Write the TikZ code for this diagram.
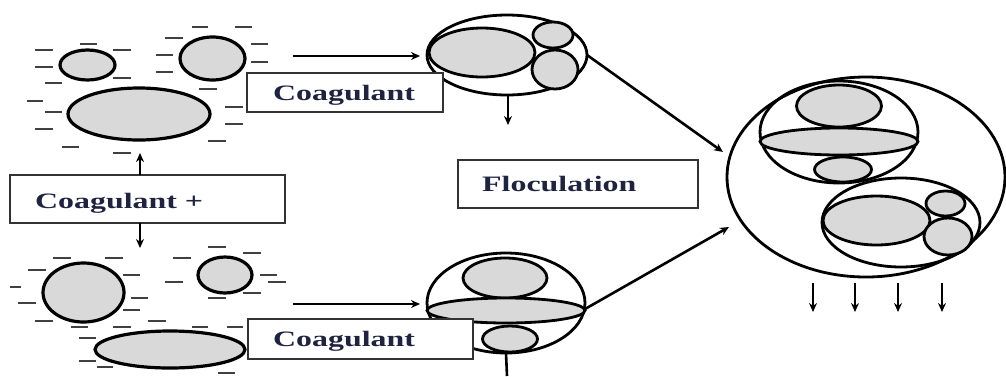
\documentclass[tikz,border=0pt]{standalone}
\usepackage{fontspec}
\setmainfont{Liberation Serif}
\usepackage{graphicx}
\usetikzlibrary{shapes.geometric,arrows.meta}
\definecolor{fillgray}{HTML}{D9D9D9}
\definecolor{txt}{HTML}{1E2340}
\definecolor{dashgray}{HTML}{404040}
\tikzset{
  blob/.style={ellipse, draw=black, line width=3.2pt, fill=fillgray, inner sep=0pt, outer sep=0pt},
  ring/.style={ellipse, draw=black, line width=2.8pt, inner sep=0pt, outer sep=0pt},
  labelbox/.style={rectangle, draw=black!80, line width=1.8pt, fill=white, inner sep=0pt, outer sep=0pt},
  labeltext/.style={inner sep=0pt, text=txt, font=\fontsize{22}{26}\selectfont\bfseries, anchor=base west},
  arr/.style={line width=2.6pt, -{Stealth[length=9pt,width=8pt]}},
  plainline/.style={line width=2.6pt},
  charge/.style={line width=2.6pt, draw=dashgray},
}
\newcommand{\wide}[1]{\scalebox{1.45}[1]{#1}}
\begin{document}
\begin{tikzpicture}[x=1pt,y=-1pt]
\useasboundingbox[fill=white] (0,0) rectangle (1006,376);

% ---------- charges (negative dashes) ----------
\foreach \a/\b/\y in {35/53/50,80/97/44,113/131/50,35/53/67,45/62/83,113/131/78,165/183/38,192/208/27,235/252/27,251/268/44,156/173/55,156/173/72,251/268/62,199/217/89,27/43/101,45/62/112,35/53/129,62/79/147,113/131/153,225/243/107,225/243/124,208/226/141,
53/71/258,105/123/258,208/226/247,243/261/253,28/46/270,123/140/275,173/191/258,165/183/282,10/21/287,260/277/275,268/286/282,243/261/293,208/226/298,18/36/303,131/148/298,123/140/310,35/53/321,71/88/327,113/131/327,148/166/321,192/208/327,227/243/327,79/96/338,79/96/361,97/113/367,218/235/373}
  \draw[charge] (\a,\y) -- (\b,\y);

% ---------- top-left particles ----------
\node[blob, minimum width=55pt, minimum height=30pt] (pA1) at (87.5,65) {};
\node[blob, minimum width=65pt, minimum height=43pt] (pA2) at (212.5,58.5) {};
\node[blob, minimum width=142pt, minimum height=52pt] (pA3) at (139,114) {};

% ---------- bottom-left particles ----------
\node[blob, minimum width=81pt, minimum height=59pt] (pB1) at (83.5,292.5) {};
\node[blob, minimum width=54pt, minimum height=36pt] (pB2) at (225,275) {};
\node[blob, minimum width=150pt, minimum height=37pt] (pB3) at (170,349.5) {};

% ---------- top floc ----------
\node[ring, minimum width=160pt, minimum height=80pt] (flocA) at (507,55) {};
\node[blob, line width=2.8pt, minimum width=106pt, minimum height=49pt] (fA1) at (482,52.5) {};
\node[blob, line width=2.8pt, minimum width=40pt, minimum height=26pt] (fA2) at (553,35) {};
\node[blob, line width=2.8pt, minimum width=46pt, minimum height=39pt] (fA3) at (555,69.5) {};

% ---------- bottom floc ----------
\node[ring, minimum width=158pt, minimum height=100pt] (flocB) at (506,303) {};
\node[blob, line width=2.8pt, minimum width=84pt, minimum height=40pt] (fB1) at (505,278) {};
\node[blob, line width=2.8pt, minimum width=158pt, minimum height=25pt] (fB2) at (506,310.5) {};
\node[blob, line width=2.8pt, minimum width=55pt, minimum height=26pt] (fB3) at (510,339) {};

% ---------- big floc ----------
\node[ring, minimum width=278pt, minimum height=200pt] (flocC) at (866,177) {};
\node[ring, minimum width=158pt, minimum height=102pt] (gU) at (839,132) {};
\node[blob, line width=2.8pt, minimum width=85pt, minimum height=42pt] (gU1) at (839,106) {};
\node[blob, line width=2.8pt, minimum width=158pt, minimum height=27pt] (gU2) at (839,141.5) {};
\node[blob, line width=2.8pt, minimum width=57pt, minimum height=25pt] (gU3) at (843,169.5) {};
\node[ring, minimum width=158pt, minimum height=89pt] (gL) at (901,222.5) {};
\node[blob, line width=2.8pt, minimum width=107pt, minimum height=49pt] (gL1) at (876.5,220.5) {};
\node[blob, line width=2.8pt, minimum width=39pt, minimum height=25pt] (gL2) at (945.5,203.5) {};
\node[blob, line width=2.8pt, minimum width=48pt, minimum height=37pt] (gL3) at (948,236.5) {};

% ---------- label boxes ----------
\node[labelbox, minimum width=196pt, minimum height=39pt] (boxA) at (345,92.5) {};
\node[labeltext] (tA) at ([xshift=26pt,yshift=-7.5pt]boxA.west) {\wide{Coagulant}};
\node[labelbox, minimum width=275pt, minimum height=48pt] (boxP) at (147.5,199) {};
\node[labeltext] (tP) at ([xshift=25pt,yshift=-9pt]boxP.west) {\wide{Coagulant +}};
\node[labelbox, minimum width=240pt, minimum height=48pt] (boxF) at (578,184) {};
\node[labeltext] (tF) at ([xshift=24pt,yshift=-7.5pt]boxF.west) {\wide{Floculation}};
\node[labelbox, minimum width=225pt, minimum height=40pt] (boxB) at (360.5,339) {};
\node[labeltext] (tB) at ([xshift=25pt,yshift=-7.5pt]boxB.west) {\wide{Coagulant}};

% ---------- connectors ----------
\coordinate (upTip) at (140,153);
\coordinate (downTip) at (140,248);
\draw[arr] (boxP.north -| upTip) -- (upTip);
\draw[arr] (boxP.south -| downTip) -- (downTip);

\coordinate (hA) at (293,56);
\coordinate (hB) at (293,304);
\draw[arr, shorten >=7pt] (hA) -- (hA -| flocA.west);
\draw[arr, shorten >=7pt] (hB) -- (hB -| flocB.west);

\coordinate (flocDown) at (508,125);
\draw[arr] (flocA.south -| flocDown) -- (flocDown);
\coordinate (bottomEnd) at (507,376);
\draw[plainline] (flocB.south) -- (bottomEnd);

\coordinate (d1) at (723,152);
\coordinate (d2) at (729,227);
\coordinate (e2) at (585,309);
\draw[arr] (flocA.east) -- (d1);
\draw[arr] (e2) -- (d2);

\foreach \x [count=\i] in {813,855,898,942} {
  \coordinate (s\i) at (\x,283);
  \coordinate (t\i) at (\x,312);
  \draw[arr] (s\i) -- (t\i);
}
\end{tikzpicture}
\end{document}
